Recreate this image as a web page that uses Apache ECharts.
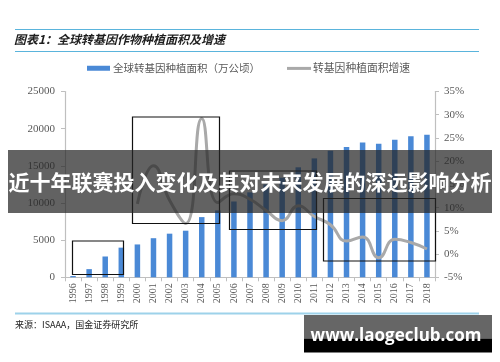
<!DOCTYPE html>
<html><head><meta charset="utf-8">
<script src="https://cdn.jsdelivr.net/npm/echarts@6/dist/echarts.min.js"></script>
<style>html,body{margin:0;padding:0;background:#fff}#c{width:500px;height:362px}</style>
</head><body><div id="c"></div>
<script>
const years = ['1996','1997','1998','1999','2000','2001','2002','2003','2004','2005','2006','2007','2008','2009','2010','2011','2012','2013','2014','2015','2016','2017','2018'];
const plantedArea = [170,1100,2800,3990,4420,5260,5870,6270,8100,9000,10200,11430,12500,13400,14800,16000,17030,17520,18150,17970,18510,18980,19170];
const growthRate = [null,null,null,null,10.8,19.0,11.6,6.6,29.2,11.1,13.0,11.8,9.4,7.2,10.4,8.1,6.3,2.8,3.7,-0.8,3.2,2.5,1.1];
const leftTicks = {min:0, max:25000, interval:5000};
const rightTicks = {min:-5, max:35, interval:5};
const titleText = '图表1：全球转基因作物种植面积及增速';
const legendNames = ['全球转基因种植面积（万公顷）','转基因种植面积增速'];
const sourceText = '来源：ISAAA，国金证券研究所';
const bannerText = '近十年联赛投入变化及其对未来发展的深远影响分析';
const watermarkText = 'www.laogeclub.com';

const CJK = '"Noto Sans CJK SC", sans-serif';
const SERIF = '"Liberation Serif", "Times New Roman", serif';
const BLUE = '#4a89d6';
const GREY = '#a9a9a9';
const AXIS = '#bfbfbf';
const LBL = '#595959';

const chart = echarts.init(document.getElementById('c'), null, {renderer:'canvas'});

const boxes = [
  [72.5, 241, 51, 33.5],
  [132.5, 117, 87, 106.5],
  [229.5, 171, 87, 58.5],
  [323.5, 198.5, 112, 62.5]
];

const graphic = [
  {type:'line', shape:{x1:15,y1:29.5,x2:479,y2:29.5}, style:{stroke:'#5ab4dc',lineWidth:1.2}, z:50},
  {type:'line', shape:{x1:15,y1:51.5,x2:479,y2:51.5}, style:{stroke:'#5ab4dc',lineWidth:1.2}, z:50},
  {type:'line', shape:{x1:15,y1:313.5,x2:479,y2:313.5}, style:{stroke:'#9dd2ea',lineWidth:2}, z:50}
].concat(boxes.map(b => ({type:'rect', shape:{x:b[0],y:b[1],width:b[2],height:b[3]}, style:{fill:null, stroke:'#111', lineWidth:1.2}, z:60})))
.concat([
  {type:'rect', shape:{x:8,y:150,width:484,height:63}, style:{fill:'rgba(38,38,38,0.72)'}, z:100},
  {type:'text', x:250, y:182, style:{text:bannerText, fill:'#ffffff', fontSize:21, fontWeight:'bold', fontFamily:CJK, align:'center', verticalAlign:'middle'}, z:101},
  {type:'rect', shape:{x:304,y:315,width:188,height:23.5}, style:{fill:'#666666'}, z:100},
  {type:'rect', shape:{x:304,y:338.5,width:188,height:14}, style:{fill:'#000000'}, z:100},
  {type:'text', x:396, y:336.5, style:{text:watermarkText, fill:'#ffffff', fontSize:17, fontWeight:'bold', fontFamily:'"Open Sans", sans-serif', align:'center', verticalAlign:'middle'}, z:101}
]);

const option = {
  animation:false,
  backgroundColor:'#ffffff',
  title:[
    {text:titleText, left:14, top:33, padding:0, textStyle:{fontSize:12, fontWeight:'bold', fontStyle:'italic', color:'#1e1e1e', fontFamily:CJK}},
    {text:sourceText, left:15, top:320, padding:0, textStyle:{fontSize:9, fontWeight:'normal', color:'#222', fontFamily:CJK}}
  ],
  legend:[
    {data:[legendNames[0]], left:87, top:63, padding:0, icon:'rect', itemWidth:23, itemHeight:5, itemGap:0,
     textStyle:{fontSize:10.5, color:LBL, fontFamily:CJK, padding:[0,0,0,-2]}},
    {data:[legendNames[1]], left:287, top:63, padding:0, icon:'rect', itemWidth:24, itemHeight:3, itemGap:0,
     textStyle:{fontSize:10.8, color:LBL, fontFamily:CJK, padding:[0,0,0,-3]}}
  ],
  grid:{left:65, right:65, top:91.5, bottom:84.7, containLabel:false},
  xAxis:{
    type:'category', data:years, boundaryGap:true,
    axisLine:{lineStyle:{color:AXIS, width:1}},
    axisTick:{show:true, length:4, lineStyle:{color:AXIS}},
    axisLabel:{rotate:90, fontSize:10, color:LBL, fontFamily:SERIF, margin:6, interval:0}
  },
  yAxis:[
    {type:'value', min:leftTicks.min, max:leftTicks.max, interval:leftTicks.interval,
     axisLine:{show:true, lineStyle:{color:AXIS, width:1.2}},
     axisTick:{show:true, length:4, lineStyle:{color:AXIS}},
     splitLine:{show:false},
     axisLabel:{fontSize:11, color:LBL, fontFamily:SERIF, margin:10, formatter:v => String(v)}},
    {type:'value', min:rightTicks.min, max:rightTicks.max, interval:rightTicks.interval, position:'right',
     axisLine:{show:true, lineStyle:{color:AXIS, width:1.2}},
     axisTick:{show:true, length:4, lineStyle:{color:AXIS}},
     splitLine:{show:false},
     axisLabel:{fontSize:11, color:LBL, fontFamily:SERIF, margin:9, formatter:v => v + '%'}}
  ],
  series:[
    {name:legendNames[0], type:'bar', data:plantedArea, yAxisIndex:0, barWidth:5.5, itemStyle:{color:BLUE}, z:2},
    {name:legendNames[1], type:'line', data:growthRate, yAxisIndex:1, smooth:0.5, showSymbol:false, symbol:'none',
     connectNulls:false, lineStyle:{color:GREY, width:3}, itemStyle:{color:GREY}, z:3}
  ],
  graphic:graphic
};
chart.setOption(option);
</script>
</body></html>
